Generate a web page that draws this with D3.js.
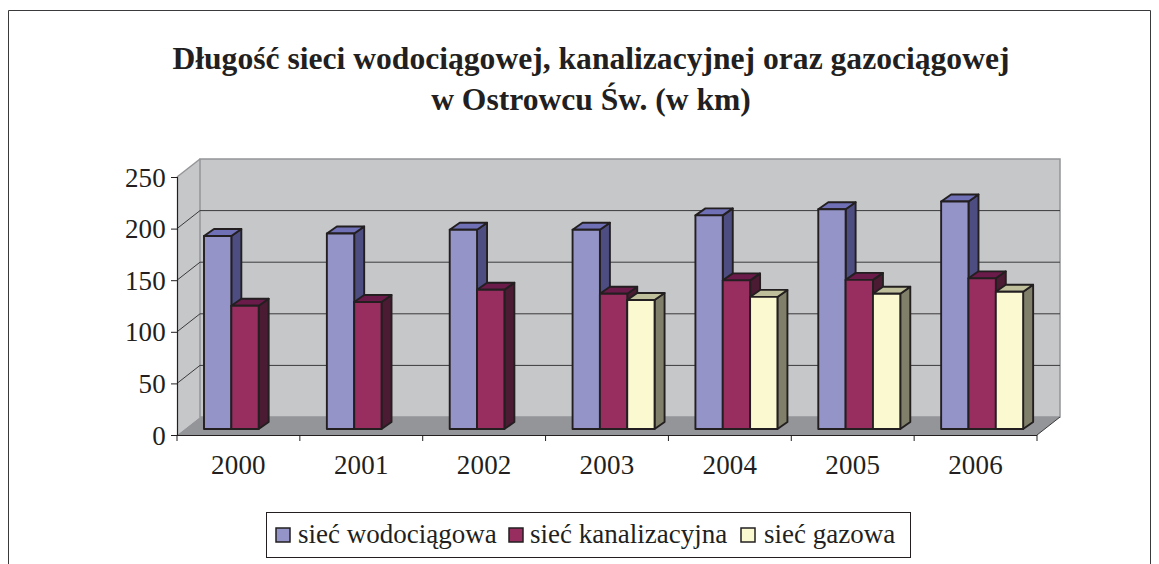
<!DOCTYPE html>
<html><head><meta charset="utf-8">
<script src="https://cdn.jsdelivr.net/npm/d3@7"></script>
<style>html,body{margin:0;padding:0;background:#fff}svg{display:block}
text{font-family:"Liberation Serif",serif;fill:#231f20}</style></head>
<body><svg id="c" width="1159" height="564"></svg>
<script>
const titleLines = ["Długość sieci wodociągowej, kanalizacyjnej oraz gazociągowej","w Ostrowcu Św. (w km)"];
const years = ["2000","2001","2002","2003","2004","2005","2006"];
const seriesNames = ["sieć wodociągowa","sieć kanalizacyjna","sieć gazowa"];
const wodociagowa = [187,189.5,193,193,207,213,220.5];
const kanalizacyjna = [119.5,123,135,131,144,144.5,146];
const gazowa = [null,null,null,125,128,131,133];
const seriesValues = [wodociagowa,kanalizacyjna,gazowa];
const yTicks = [0,50,100,150,200,250];
const faceColors = ["#9494c8","#982e60","#fbf9d0"];
const sideColors = ["#4d4d82","#4b1a33","#80806a"];
const topColors = ["#6f70b5","#6b1b4a","#bfbf9b"];

const svg = d3.select("#c");
const ink = "#231f20";
const x = d3.scaleBand().domain(years).range([177,1037]);
const xs = d3.scaleBand().domain(d3.range(3)).range([27,109]);
const y = d3.scaleLinear().domain([0,250]).range([435,177]);
const depth = {dx:23, dy:-18};
const bar = {dx:10, dy:-7, base:-6};
const poly = pts => pts.map(p=>p.join(",")).join(" ");

// frame
svg.append("path").attr("d","M8.5,564V10.5H1150.5V564").attr("fill","none").attr("stroke","#3a3a3c").attr("stroke-width",1);

// title
svg.selectAll("text.t").data(titleLines).join("text").attr("class","t")
  .attr("x",591).attr("y",(d,i)=>69+i*41).attr("text-anchor","middle")
  .attr("font-size",31.6).attr("font-weight","bold").text(d=>d);

// walls
const x0=x.range()[0], x1=x.range()[1];
const y0=y(0), yT=y(250);
svg.append("polygon").attr("points",poly([[x0,y0],[x0+depth.dx,y0+depth.dy],[x0+depth.dx,yT+depth.dy],[x0,yT]]))
  .attr("fill","#c6c7c9");
svg.append("polygon").attr("points",poly([[x0+depth.dx,y0+depth.dy],[x1+depth.dx,y0+depth.dy],[x1+depth.dx,yT+depth.dy],[x0+depth.dx,yT+depth.dy]]))
  .attr("fill","#c6c7c9").attr("stroke","#949598").attr("stroke-width",1.5);
svg.append("polygon").attr("points",poly([[x0,y0],[x0+depth.dx,y0+depth.dy],[x1+depth.dx,y0+depth.dy],[x1,y0]]))
  .attr("fill","#949598");

// gridlines
yTicks.filter(t=>t>0&&t<250).forEach(t=>{
  svg.append("line").attr("x1",x0+depth.dx).attr("x2",x1+depth.dx).attr("y1",y(t)+depth.dy).attr("y2",y(t)+depth.dy)
    .attr("stroke","#3a3a3c").attr("stroke-width",1);
});
yTicks.filter(t=>t>0&&t<250).forEach(t=>{
  svg.append("line").attr("x1",x0).attr("x2",x0+depth.dx).attr("y1",y(t)).attr("y2",y(t)+depth.dy)
    .attr("stroke","#3a3a3c").attr("stroke-width",1);
});
svg.append("line").attr("x1",x0).attr("x2",x0+depth.dx).attr("y1",yT).attr("y2",yT+depth.dy).attr("stroke","#949598").attr("stroke-width",1.5);
svg.append("line").attr("x1",x1).attr("x2",x1+depth.dx).attr("y1",y0).attr("y2",y0+depth.dy).attr("stroke","#3a3a3c").attr("stroke-width",1);

// bars
const baseY = y0+bar.base;
const scaleH = v => y0 - y(v);
years.forEach((yr,ci)=>{
  seriesValues.forEach((vals,si)=>{
    const v = vals[ci];
    if(v==null) return;
    const l = x(yr)+xs(si), r = l+xs.bandwidth(), t = baseY-scaleH(v);
    const g = svg.append("g").attr("stroke",ink).attr("stroke-width",1.9).attr("stroke-linejoin","round");
    g.append("polygon").attr("points",poly([[r,baseY],[r+bar.dx,baseY+bar.dy],[r+bar.dx,t+bar.dy],[r,t]])).attr("fill",sideColors[si]);
    g.append("polygon").attr("points",poly([[l,t],[l+bar.dx,t+bar.dy],[r+bar.dx,t+bar.dy],[r,t]])).attr("fill",topColors[si]);
    g.append("rect").attr("x",l).attr("y",t).attr("width",r-l).attr("height",baseY-t).attr("fill",faceColors[si]);
  });
});

// axes
const yAxis = svg.append("g").attr("transform",`translate(${x0},0)`)
  .call(d3.axisLeft(y).tickValues(yTicks).tickSize(6).tickPadding(5));
const xAxis = svg.append("g").attr("transform",`translate(0,${y0})`)
  .call(d3.axisBottom(x).tickSize(0).tickPadding(20));
[yAxis,xAxis].forEach(a=>{
  a.selectAll("path.domain").attr("stroke",ink).attr("stroke-width",1.2);
  a.selectAll("line").attr("stroke",ink);
  a.selectAll("text").attr("font-family","Liberation Serif").attr("font-size",27).attr("letter-spacing",0.2).attr("fill",ink);
});
xAxis.selectAll("path.domain").attr("d",`M${x0},0.5H${x1}`);
yAxis.selectAll("text").attr("dy","0.34em");
xAxis.selectAll("text").attr("dy","0.71em");
d3.range(8).forEach(i=>{
  const px = x0+i*x.step();
  xAxis.append("line").attr("x1",px).attr("x2",px).attr("y1",0).attr("y2",6).attr("stroke",ink);
});

// legend
const leg = svg.append("g");
leg.append("rect").attr("x",266.5).attr("y",512.5).attr("width",644).attr("height",45).attr("fill","#fff").attr("stroke",ink).attr("stroke-width",1);
const legX = [276,509,741], legTextX = [298,530,764];
seriesNames.forEach((n,i)=>{
  leg.append("rect").attr("x",legX[i]).attr("y",528).attr("width",14).attr("height",14).attr("fill",faceColors[i]).attr("stroke",ink).attr("stroke-width",1.5);
  leg.append("text").attr("x",legTextX[i]).attr("y",543).attr("font-size",27).text(n);
});
</script></body></html>
